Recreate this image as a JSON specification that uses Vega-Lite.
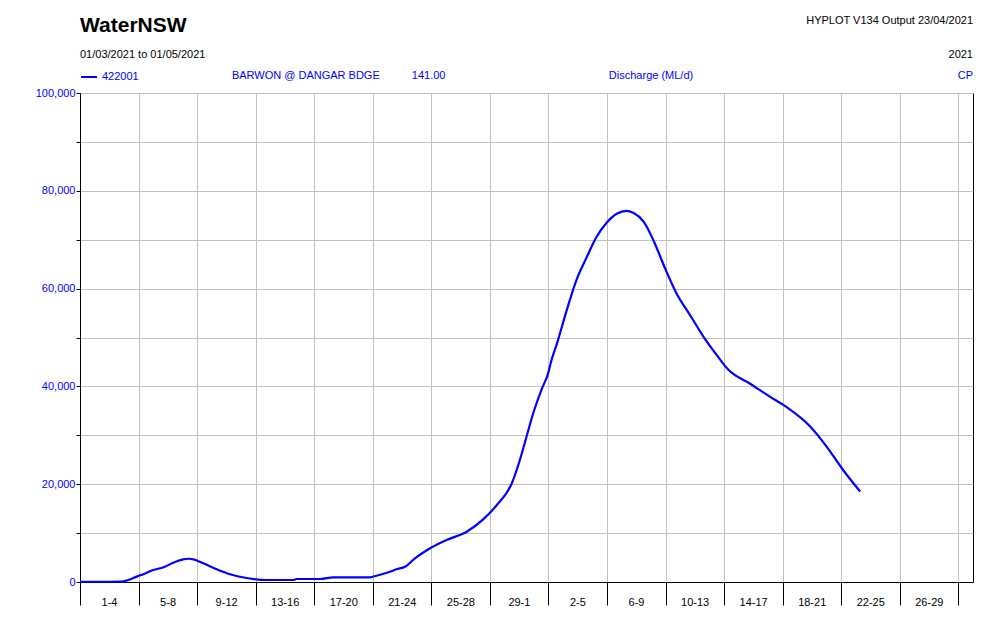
{
  "$schema": "https://vega.github.io/schema/vega-lite/v6.json",
  "width": 893,
  "height": 489,
  "autosize": {"type": "none"},
  "padding": {"left": 80, "top": 93, "right": 27, "bottom": 43},
  "background": "white",
  "config": {
    "view": {"stroke": "black", "strokeWidth": 1},
    "font": "Liberation Sans"
  },
  "datasets": {
    "flow": [
      {"date": "2021-03-01T00:00:00Z", "discharge": 50, "gauge": "422001"},
      {"date": "2021-03-02T00:00:00Z", "discharge": 50, "gauge": "422001"},
      {"date": "2021-03-03T00:00:00Z", "discharge": 50, "gauge": "422001"},
      {"date": "2021-03-03T20:00:00Z", "discharge": 80, "gauge": "422001"},
      {"date": "2021-03-04T07:00:00Z", "discharge": 400, "gauge": "422001"},
      {"date": "2021-03-04T21:00:00Z", "discharge": 1100, "gauge": "422001"},
      {"date": "2021-03-05T10:00:00Z", "discharge": 1700, "gauge": "422001"},
      {"date": "2021-03-06T00:00:00Z", "discharge": 2450, "gauge": "422001"},
      {"date": "2021-03-06T17:00:00Z", "discharge": 3000, "gauge": "422001"},
      {"date": "2021-03-07T09:00:00Z", "discharge": 3950, "gauge": "422001"},
      {"date": "2021-03-08T01:00:00Z", "discharge": 4640, "gauge": "422001"},
      {"date": "2021-03-08T10:00:00Z", "discharge": 4750, "gauge": "422001"},
      {"date": "2021-03-08T18:00:00Z", "discharge": 4640, "gauge": "422001"},
      {"date": "2021-03-09T10:00:00Z", "discharge": 3820, "gauge": "422001"},
      {"date": "2021-03-10T08:00:00Z", "discharge": 2600, "gauge": "422001"},
      {"date": "2021-03-11T06:00:00Z", "discharge": 1570, "gauge": "422001"},
      {"date": "2021-03-12T09:00:00Z", "discharge": 820, "gauge": "422001"},
      {"date": "2021-03-13T18:00:00Z", "discharge": 410, "gauge": "422001"},
      {"date": "2021-03-15T14:00:00Z", "discharge": 410, "gauge": "422001"},
      {"date": "2021-03-15T19:00:00Z", "discharge": 610, "gauge": "422001"},
      {"date": "2021-03-17T10:00:00Z", "discharge": 610, "gauge": "422001"},
      {"date": "2021-03-18T07:00:00Z", "discharge": 960, "gauge": "422001"},
      {"date": "2021-03-20T19:00:00Z", "discharge": 960, "gauge": "422001"},
      {"date": "2021-03-21T06:00:00Z", "discharge": 1290, "gauge": "422001"},
      {"date": "2021-03-21T23:00:00Z", "discharge": 1900, "gauge": "422001"},
      {"date": "2021-03-22T15:00:00Z", "discharge": 2600, "gauge": "422001"},
      {"date": "2021-03-23T07:00:00Z", "discharge": 3270, "gauge": "422001"},
      {"date": "2021-03-23T18:00:00Z", "discharge": 4500, "gauge": "422001"},
      {"date": "2021-03-24T22:00:00Z", "discharge": 6890, "gauge": "422001"},
      {"date": "2021-03-26T01:00:00Z", "discharge": 8590, "gauge": "422001"},
      {"date": "2021-03-27T10:00:00Z", "discharge": 10290, "gauge": "422001"},
      {"date": "2021-03-28T13:00:00Z", "discharge": 12800, "gauge": "422001"},
      {"date": "2021-03-29T11:00:00Z", "discharge": 15700, "gauge": "422001"},
      {"date": "2021-03-30T12:00:00Z", "discharge": 20200, "gauge": "422001"},
      {"date": "2021-03-31T01:00:00Z", "discharge": 24900, "gauge": "422001"},
      {"date": "2021-03-31T12:00:00Z", "discharge": 29700, "gauge": "422001"},
      {"date": "2021-03-31T23:00:00Z", "discharge": 34500, "gauge": "422001"},
      {"date": "2021-04-01T12:30:00Z", "discharge": 39300, "gauge": "422001"},
      {"date": "2021-04-01T23:30:00Z", "discharge": 42700, "gauge": "422001"},
      {"date": "2021-04-02T05:00:00Z", "discharge": 45400, "gauge": "422001"},
      {"date": "2021-04-02T14:00:00Z", "discharge": 48800, "gauge": "422001"},
      {"date": "2021-04-03T06:00:00Z", "discharge": 55600, "gauge": "422001"},
      {"date": "2021-04-03T22:00:00Z", "discharge": 61800, "gauge": "422001"},
      {"date": "2021-04-04T15:00:00Z", "discharge": 66500, "gauge": "422001"},
      {"date": "2021-04-05T07:00:00Z", "discharge": 70600, "gauge": "422001"},
      {"date": "2021-04-05T23:00:00Z", "discharge": 73400, "gauge": "422001"},
      {"date": "2021-04-06T16:00:00Z", "discharge": 75300, "gauge": "422001"},
      {"date": "2021-04-07T08:00:00Z", "discharge": 75900, "gauge": "422001"},
      {"date": "2021-04-07T19:00:00Z", "discharge": 75500, "gauge": "422001"},
      {"date": "2021-04-08T12:00:00Z", "discharge": 73700, "gauge": "422001"},
      {"date": "2021-04-09T04:00:00Z", "discharge": 69900, "gauge": "422001"},
      {"date": "2021-04-09T23:00:00Z", "discharge": 64200, "gauge": "422001"},
      {"date": "2021-04-10T18:00:00Z", "discharge": 59000, "gauge": "422001"},
      {"date": "2021-04-11T16:00:00Z", "discharge": 54600, "gauge": "422001"},
      {"date": "2021-04-12T14:00:00Z", "discharge": 50200, "gauge": "422001"},
      {"date": "2021-04-13T12:00:00Z", "discharge": 46400, "gauge": "422001"},
      {"date": "2021-04-14T07:00:00Z", "discharge": 43400, "gauge": "422001"},
      {"date": "2021-04-15T18:00:00Z", "discharge": 40600, "gauge": "422001"},
      {"date": "2021-04-17T03:00:00Z", "discharge": 37900, "gauge": "422001"},
      {"date": "2021-04-18T06:00:00Z", "discharge": 35800, "gauge": "422001"},
      {"date": "2021-04-19T21:00:00Z", "discharge": 31800, "gauge": "422001"},
      {"date": "2021-04-21T00:00:00Z", "discharge": 27700, "gauge": "422001"},
      {"date": "2021-04-22T03:00:00Z", "discharge": 22900, "gauge": "422001"},
      {"date": "2021-04-23T07:00:00Z", "discharge": 18500, "gauge": "422001"}
    ],
    "agency": [{"label": "WaterNSW"}],
    "period": [{"label": "01/03/2021  to  01/05/2021"}],
    "program": [{"label": "HYPLOT V134  Output 23/04/2021"}],
    "year": [{"label": "2021"}],
    "station": [{"label": "BARWON @ DANGAR BDGE"}],
    "gaugedatum": [{"label": "141.00"}],
    "variable": [{"label": "Discharge (ML/d)"}],
    "quality": [{"label": "CP"}]
  },
  "layer": [
    {
      "data": {"name": "flow"},
      "mark": {"type": "line", "strokeWidth": 2.2, "interpolate": "monotone"},
      "encoding": {
        "x": {
          "field": "date",
          "type": "temporal",
          "scale": {
            "type": "utc",
            "domain": [
              {"year": 2021, "month": 3, "date": 1, "utc": true},
              {"year": 2021, "month": 5, "date": 1, "utc": true}
            ],
            "nice": false
          },
          "axis": {
            "title": null,
            "values": [
              {"year": 2021, "month": 3, "date": 1, "utc": true},
              {"year": 2021, "month": 3, "date": 5, "utc": true},
              {"year": 2021, "month": 3, "date": 9, "utc": true},
              {"year": 2021, "month": 3, "date": 13, "utc": true},
              {"year": 2021, "month": 3, "date": 17, "utc": true},
              {"year": 2021, "month": 3, "date": 21, "utc": true},
              {"year": 2021, "month": 3, "date": 25, "utc": true},
              {"year": 2021, "month": 3, "date": 29, "utc": true},
              {"year": 2021, "month": 4, "date": 2, "utc": true},
              {"year": 2021, "month": 4, "date": 6, "utc": true},
              {"year": 2021, "month": 4, "date": 10, "utc": true},
              {"year": 2021, "month": 4, "date": 14, "utc": true},
              {"year": 2021, "month": 4, "date": 18, "utc": true},
              {"year": 2021, "month": 4, "date": 22, "utc": true},
              {"year": 2021, "month": 4, "date": 26, "utc": true},
              {"year": 2021, "month": 4, "date": 30, "utc": true}
            ],
            "labelExpr": "(utcmonth(datum.value) == 3 && utcdate(datum.value) == 30) ? '' : (utcdate(datum.value) + '-' + utcdate(datum.value + 259200000))",
            "labelOffset": 29,
            "labelAlign": "center",
            "labelBaseline": "top",
            "labelPadding": -9,
            "labelFontSize": 11,
            "labelColor": "black",
            "labelFont": "Liberation Sans",
            "labelOverlap": false,
            "labelFlush": false,
            "tickSize": 23,
            "tickColor": "black",
            "tickWidth": 1,
            "domainColor": "black",
            "domainWidth": 1,
            "grid": true,
            "gridColor": "#c0c0c0",
            "gridWidth": 1,
            "gridOpacity": 1
          }
        },
        "y": {
          "field": "discharge",
          "type": "quantitative",
          "scale": {"domain": [0, 100000], "nice": false, "zero": true},
          "axis": {
            "title": null,
            "values": [0, 10000, 20000, 30000, 40000, 50000, 60000, 70000, 80000, 90000, 100000],
            "labelExpr": "datum.value % 20000 == 0 ? format(datum.value, ',') : ''",
            "labelColor": "#0000ff",
            "labelFontSize": 11,
            "labelFont": "Liberation Sans",
            "labelPadding": 1,
            "tickSize": 4,
            "tickColor": "black",
            "domainColor": "black",
            "grid": true,
            "gridColor": "#c0c0c0",
            "gridWidth": 1,
            "gridOpacity": 1
          }
        },
        "color": {
          "field": "gauge",
          "type": "nominal",
          "scale": {"range": ["#0000ff"]},
          "legend": {
            "title": null,
            "orient": "top",
            "direction": "horizontal",
            "symbolType": "stroke",
            "symbolSize": 256,
            "symbolStrokeWidth": 2,
            "symbolStrokeColor": "#0000ff",
            "labelColor": "#0000ff",
            "labelFontSize": 11,
            "labelFont": "Liberation Sans",
            "offset": 11,
            "padding": 0
          }
        }
      }
    },
    {
      "data": {"name": "agency"},
      "mark": {"type": "text", "align": "left", "baseline": "alphabetic", "fontSize": 21, "fontWeight": "bold", "color": "black", "font": "Liberation Sans"},
      "encoding": {
        "x": {"datum": {"year": 2021, "month": 3, "date": 1, "utc": true}, "type": "temporal"},
        "y": {"datum": 112470, "type": "quantitative"},
        "text": {"field": "label", "type": "nominal"}
      }
    },
    {
      "data": {"name": "period"},
      "mark": {"type": "text", "align": "left", "baseline": "middle", "fontSize": 11, "color": "black", "font": "Liberation Sans"},
      "encoding": {
        "x": {"datum": {"year": 2021, "month": 3, "date": 1, "utc": true}, "type": "temporal"},
        "y": {"datum": 107770, "type": "quantitative"},
        "text": {"field": "label", "type": "nominal"}
      }
    },
    {
      "data": {"name": "program"},
      "mark": {"type": "text", "align": "right", "baseline": "middle", "fontSize": 11, "color": "black", "font": "Liberation Sans"},
      "encoding": {
        "x": {"datum": {"year": 2021, "month": 5, "date": 1, "utc": true}, "type": "temporal"},
        "y": {"datum": 114700, "type": "quantitative"},
        "text": {"field": "label", "type": "nominal"}
      }
    },
    {
      "data": {"name": "year"},
      "mark": {"type": "text", "align": "right", "baseline": "middle", "fontSize": 11, "color": "black", "font": "Liberation Sans"},
      "encoding": {
        "x": {"datum": {"year": 2021, "month": 5, "date": 1, "utc": true}, "type": "temporal"},
        "y": {"datum": 107770, "type": "quantitative"},
        "text": {"field": "label", "type": "nominal"}
      }
    },
    {
      "data": {"name": "station"},
      "mark": {"type": "text", "align": "left", "baseline": "middle", "fontSize": 11, "color": "#0000ff", "font": "Liberation Sans"},
      "encoding": {
        "x": {"datum": {"year": 2021, "month": 3, "date": 11, "hours": 9, "utc": true}, "type": "temporal"},
        "y": {"datum": 103480, "type": "quantitative"},
        "text": {"field": "label", "type": "nominal"}
      }
    },
    {
      "data": {"name": "gaugedatum"},
      "mark": {"type": "text", "align": "left", "baseline": "middle", "fontSize": 11, "color": "#0000ff", "font": "Liberation Sans"},
      "encoding": {
        "x": {"datum": {"year": 2021, "month": 3, "date": 23, "hours": 16, "utc": true}, "type": "temporal"},
        "y": {"datum": 103480, "type": "quantitative"},
        "text": {"field": "label", "type": "nominal"}
      }
    },
    {
      "data": {"name": "variable"},
      "mark": {"type": "text", "align": "left", "baseline": "middle", "fontSize": 11, "color": "#0000ff", "font": "Liberation Sans"},
      "encoding": {
        "x": {"datum": {"year": 2021, "month": 4, "date": 6, "hours": 3, "utc": true}, "type": "temporal"},
        "y": {"datum": 103480, "type": "quantitative"},
        "text": {"field": "label", "type": "nominal"}
      }
    },
    {
      "data": {"name": "quality"},
      "mark": {"type": "text", "align": "right", "baseline": "middle", "fontSize": 11, "color": "#0000ff", "font": "Liberation Sans"},
      "encoding": {
        "x": {"datum": {"year": 2021, "month": 5, "date": 1, "utc": true}, "type": "temporal"},
        "y": {"datum": 103480, "type": "quantitative"},
        "text": {"field": "label", "type": "nominal"}
      }
    }
  ]
}
